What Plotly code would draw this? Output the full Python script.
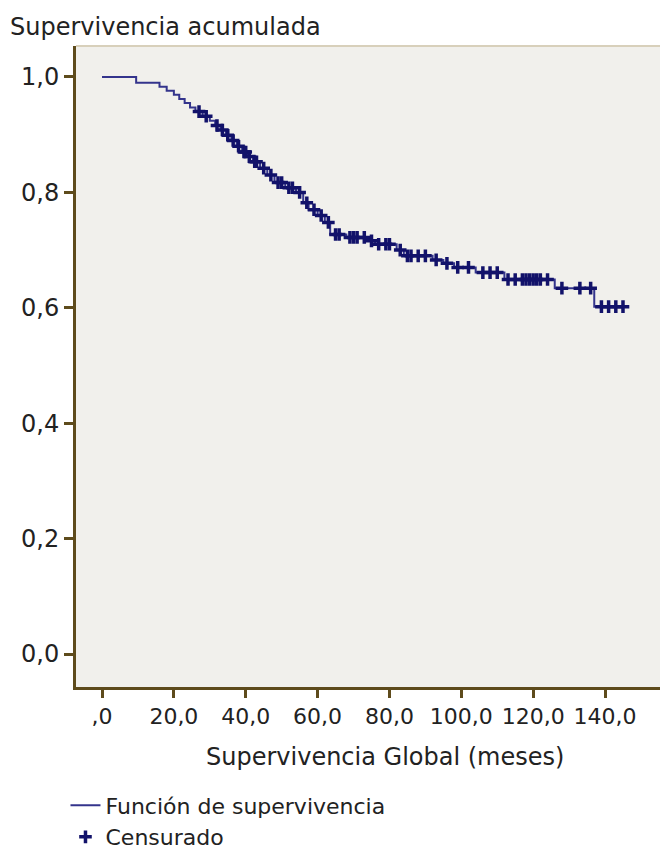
import numpy as np
import plotly.graph_objects as go

# ---- data ----
event_times = [0, 9.5, 16, 18, 20, 21.5, 23, 24.5, 26, 28, 30, 31.5, 33, 34.5, 36, 37.5,
               39, 40.5, 42, 44, 46, 48, 51, 54, 56, 57.5, 60, 62, 63.5, 68, 74, 76,
               82, 84, 92, 95, 98, 104, 112, 126, 137]
survival = [1.0, 0.990, 0.983, 0.976, 0.969, 0.962, 0.955, 0.947, 0.940, 0.932, 0.924,
            0.916, 0.908, 0.899, 0.890, 0.880, 0.870, 0.862, 0.853, 0.842, 0.830, 0.817,
            0.808, 0.800, 0.782, 0.770, 0.760, 0.748, 0.727, 0.722, 0.716, 0.710,
            0.700, 0.690, 0.683, 0.677, 0.670, 0.661, 0.649, 0.634, 0.602]
end_time = 146
censor_times = [27, 29, 32, 33.5, 35, 36.5, 38, 39.5, 40, 41, 42.5, 43, 45, 47, 49, 50,
                52, 53, 55, 57, 59, 61, 63, 65, 66, 69, 70, 71, 73, 75, 77, 79, 80,
                83, 85, 86, 88, 90, 93, 96, 99, 102, 106, 108, 110, 113, 115, 117, 118,
                119, 120, 121, 122, 124, 128, 133, 136, 139, 141, 143, 145]
x_tick_vals = [0, 20, 40, 60, 80, 100, 120, 140]
x_tick_text = [",0", "20,0", "40,0", "60,0", "80,0", "100,0", "120,0", "140,0"]
y_tick_vals = [0.0, 0.2, 0.4, 0.6, 0.8, 1.0]

# step lookup for censor mark heights
et = np.array(event_times)
sv = np.array(survival)
censor_y = [sv[np.searchsorted(et, t, side="right") - 1] for t in censor_times]

line_x = event_times + [end_time]
line_y = survival + [survival[-1]]

FONT = "DejaVu Sans"
AXC = "#5e4b1c"
TXT = "#222222"
FS = 24

fig = go.Figure()
fig.add_trace(go.Scatter(
    x=line_x, y=line_y, mode="lines", line_shape="hv",
    line=dict(color="#34348c", width=2),
    name="Función de supervivencia"))
fig.add_trace(go.Scatter(
    x=censor_times, y=censor_y, mode="markers",
    marker=dict(symbol="cross-thin", size=9, line=dict(width=3.5, color="#12126a"),
                color="#12126a"),
    name="Censurado"))

fig.update_layout(
    width=660, height=853,
    margin=dict(l=76, r=0, t=46, b=166, autoexpand=False),
    paper_bgcolor="white", plot_bgcolor="#f1f0ec",
    separators=",.",
    font=dict(family=FONT, size=FS, color=TXT),
    showlegend=True,
    legend=dict(x=-0.018, y=-0.152, xanchor="left", yanchor="top",
                bgcolor="rgba(0,0,0,0)", font=dict(size=22, color=TXT),
                tracegroupgap=0, itemwidth=30),
    xaxis=dict(range=[-7.24, 155.3], tickvals=x_tick_vals, ticktext=x_tick_text,
               showgrid=False, zeroline=False, showline=True, linecolor=AXC,
               linewidth=3, ticks="outside", ticklen=8, tickwidth=3, tickcolor=AXC,
               tickfont=dict(size=22, color=TXT), automargin=False),
    yaxis=dict(range=[-0.0572, 1.0537], tickvals=y_tick_vals, tickformat=".1f",
               showgrid=False, zeroline=False, showline=True, linecolor=AXC,
               linewidth=3, ticks="outside", ticklen=9, tickwidth=3, tickcolor=AXC,
               tickfont=dict(size=FS, color=TXT), automargin=False),
    annotations=[
        dict(text="Supervivencia acumulada", xref="paper", yref="paper",
             x=-0.116, y=1.0296, xanchor="left", yanchor="middle", showarrow=False,
             font=dict(size=FS, color=TXT)),
        dict(text="Supervivencia Global (meses)", xref="paper", yref="paper",
             x=0.529, y=-0.109, xanchor="center", yanchor="middle", showarrow=False,
             font=dict(size=FS, color=TXT)),
    ],
    shapes=[dict(type="line", xref="paper", yref="paper", x0=0, x1=1, y0=1, y1=1,
                 line=dict(color="#d8d0bb", width=2))],
)

fig.write_html(
    "out.html",
    config={"responsive": False, "displayModeBar": False},
    post_script="document.body.style.margin='0';document.body.style.padding='0';"
                "document.body.style.overflow='hidden';",
)
